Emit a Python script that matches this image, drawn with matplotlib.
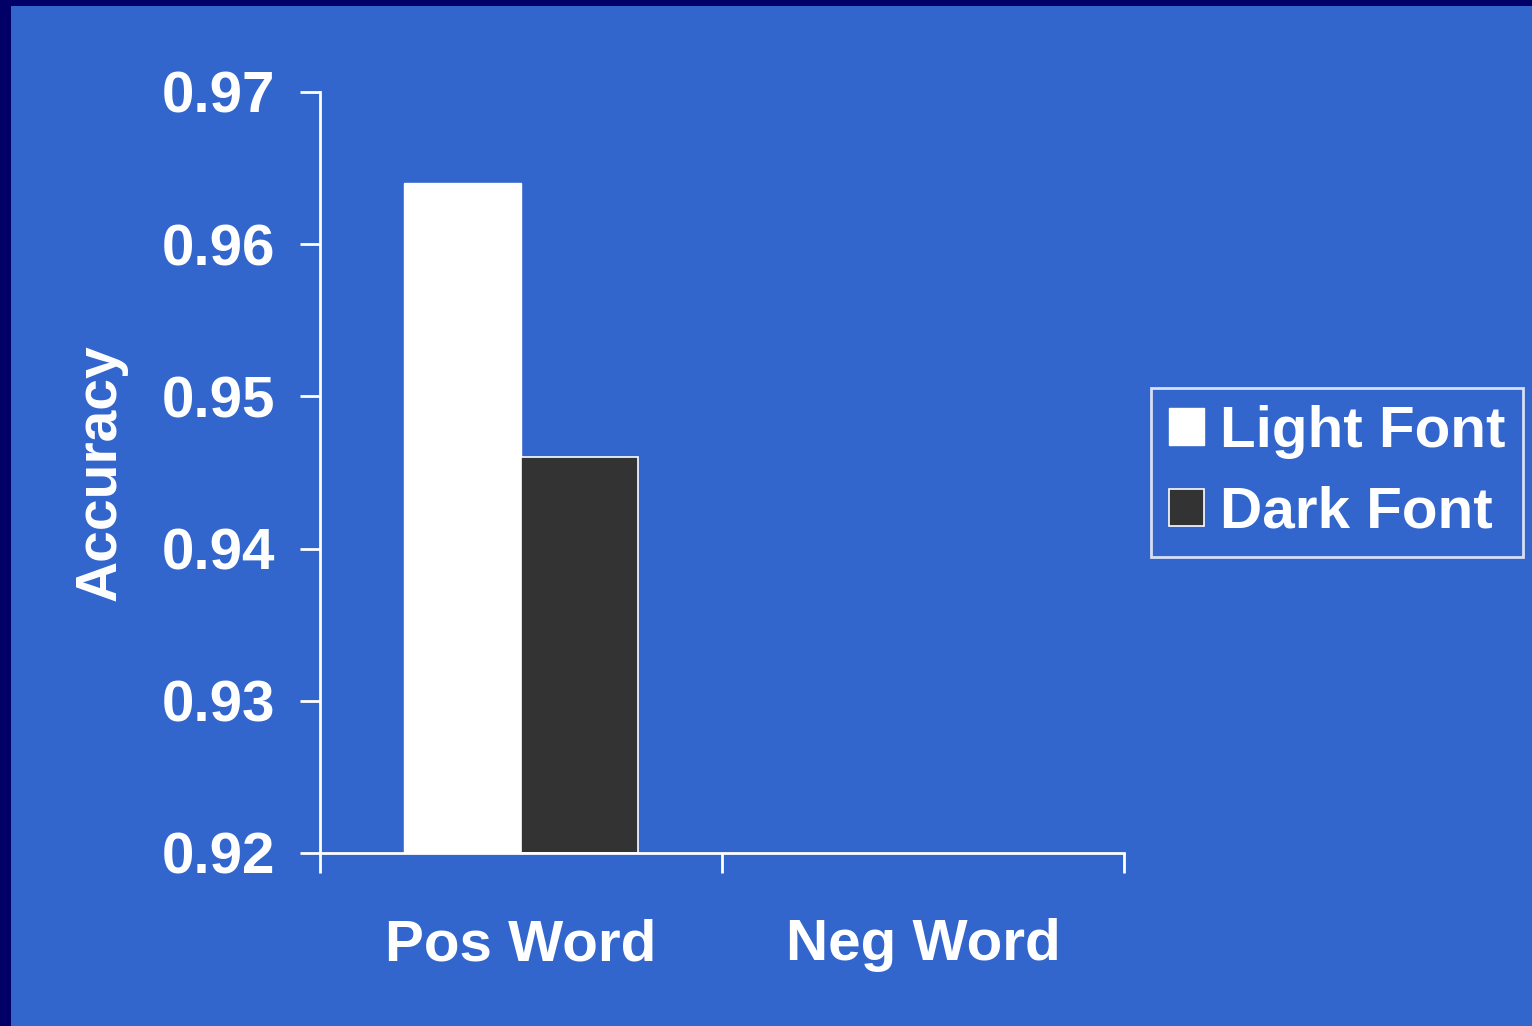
import matplotlib
matplotlib.use("Agg")
import matplotlib.pyplot as plt
from matplotlib.patches import Rectangle
import numpy as np

categories = ["Pos Word", "Neg Word"]
light_font = [0.964, np.nan]
dark_font = [0.946, np.nan]
series_labels = ["Light Font", "Dark Font"]
y_ticks = [0.92, 0.93, 0.94, 0.95, 0.96, 0.97]

BG = "#3366CC"
FRAME = "#000066"
FS = 42
plt.rcParams["font.family"] = ["Liberation Sans", "DejaVu Sans"]
plt.rcParams["font.weight"] = "bold"

fig = plt.figure(figsize=(15.32, 10.26), dpi=100)
fig.patch.set_facecolor(FRAME)
fig.patches.append(Rectangle((11 / 1532, 0), 1 - 11 / 1532, 1 - 6 / 1026,
                             transform=fig.transFigure, facecolor=BG,
                             edgecolor="none", zorder=-10))

ax = fig.add_axes([320 / 1532, 1 - 853 / 1026, (1124 - 320) / 1532, (853 - 92) / 1026])
ax.set_facecolor("none")
ax.set_zorder(5)

x = np.arange(len(categories)) + 0.5
w = 0.29
base = y_ticks[0]
ax.bar(x - w / 2, np.array(light_font) - base, w, bottom=base, color="white",
       edgecolor="white", linewidth=1, label=series_labels[0])
ax.bar(x + w / 2, np.array(dark_font) - base, w, bottom=base, color="#333333",
       edgecolor="white", linewidth=1.2, label=series_labels[1])

ax.set_xlim(0, 2)
ax.set_ylim(0.92, 0.97)
ax.set_yticks(y_ticks)
ax.set_yticklabels([f"{v:.2f}" for v in y_ticks])
ax.set_xticks([0, 1, 2])
ax.set_xticklabels([])
ax.set_xticks(x, minor=True)
ax.set_xticklabels(categories, minor=True)
ax.tick_params(axis="x", which="minor", length=0, pad=47)

for s in ["top", "right"]:
    ax.spines[s].set_visible(False)
for s in ["left", "bottom"]:
    ax.spines[s].set_color("white")
    ax.spines[s].set_linewidth(2)

ax.tick_params(axis="both", which="major", colors="white", width=2, length=14.5,
               labelsize=FS)
ax.tick_params(axis="y", pad=18)
ax.tick_params(axis="x", which="minor", colors="white", labelsize=FS)
for t in ax.get_yticklabels() + ax.get_xticklabels(minor=True):
    t.set_fontweight("bold")

ax.set_ylabel("Accuracy", color="white", fontsize=41, fontweight="bold", labelpad=24)

leg = ax.legend(loc="center left", bbox_to_anchor=((1151 - 320) / 804, 0.5),
                frameon=True, fancybox=False, fontsize=FS, handlelength=0.6,
                handleheight=0.6, handletextpad=0.28, borderpad=0.3,
                labelspacing=0.45, borderaxespad=0)
leg.get_frame().set_facecolor(BG)
leg.get_frame().set_edgecolor("white")
leg.get_frame().set_linewidth(2)
for t in leg.get_texts():
    t.set_color("white")
    t.set_fontweight("bold")

fig.savefig("out.png", dpi=100, facecolor=fig.get_facecolor())
